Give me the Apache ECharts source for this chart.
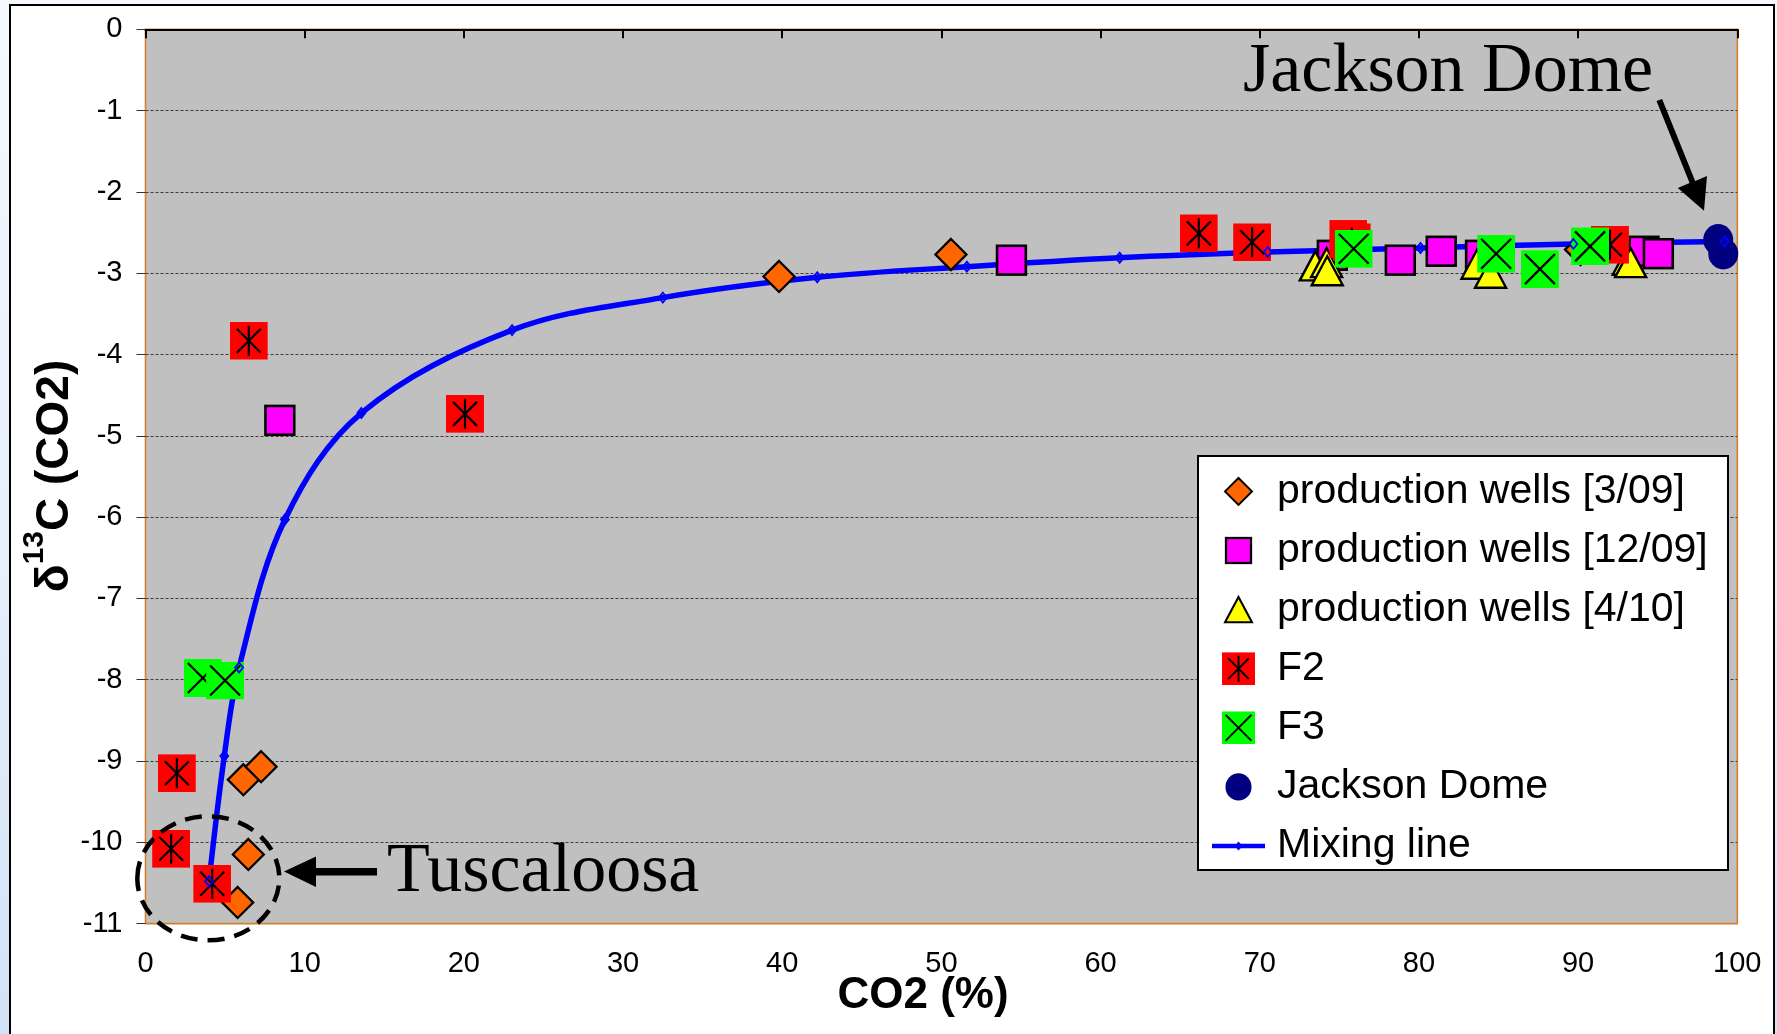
<!DOCTYPE html>
<html><head><meta charset="utf-8">
<script src="https://cdn.jsdelivr.net/npm/echarts@6/dist/echarts.min.js"></script>
<style>
html,body{margin:0;padding:0;width:1777px;height:1034px;overflow:hidden;background:linear-gradient(180deg,#f6f9fe 0%,#e6effa 55%,#d2e2f6 100%);}
#frame{position:absolute;left:9px;top:4px;width:1766px;height:1100px;box-sizing:border-box;border:2px solid #000;background:#fff;}
#chart{position:absolute;left:0;top:0;width:1777px;height:1034px;}
</style></head><body><div id="frame"></div><div id="chart"></div>
<script>
// ---- axis ----
const xMin = 0, xMax = 100, xStep = 10;
const yMin = -11, yMax = 0, yStep = 1;
const xTitle = 'CO2 (%)';

// ---- series values (CO2 %, delta13C) ----
const pw309X = [39.8, 50.6, 6.15, 7.26, 6.46, 5.79, 90.15];
const pw309Y = [-3.04, -2.77, -9.23, -9.07, -10.15, -10.74, -2.71];

const pw1209X = [8.44, 54.4, 74.56, 78.83, 81.4, 83.87, 94.14, 95.04];
const pw1209Y = [-4.81, -2.84, -2.78, -2.84, -2.73, -2.78, -2.73, -2.76];

const pw410X = [73.49, 74.2, 74.24, 83.65, 84.5, 93.15, 93.3];
const pw410Y = [-2.91, -2.87, -2.97, -2.89, -3.0, -2.84, -2.87];

const f2X = [6.49, 20.07, 1.97, 1.61, 4.19, 66.17, 69.52, 75.56, 75.78, 92.0];
const f2Y = [-3.83, -4.73, -9.15, -10.08, -10.51, -2.51, -2.62, -2.58, -2.62, -2.65];

const f3X = [3.6, 5.0, 75.9, 84.85, 87.6, 90.75];
const f3Y = [-7.98, -8.01, -2.70, -2.76, -2.95, -2.67];

const jdX = [98.8, 99.12];
const jdY = [-2.59, -2.76];

const mixX = [3.99, 4.95, 5.88, 8.76, 13.56, 23.03, 32.5, 42.2, 51.6, 61.2, 70.5, 80.1, 89.7, 99.2];
const mixY = [-10.48, -8.94, -7.85, -6.03, -4.72, -3.70, -3.30, -3.05, -2.92, -2.81, -2.74, -2.69, -2.64, -2.61];

const names = ['production wells [3/09]', 'production wells [12/09]', 'production wells [4/10]', 'F2', 'F3', 'Jackson Dome', 'Mixing line'];

// ---- styles ----
const FONT = '"Liberation Sans", Arial, Helvetica, sans-serif';
const SERIF = '"Liberation Serif", "Times New Roman", serif';

const shapes = {
  diamond: '<polygon points="19,3.5 34.5,19 19,34.5 3.5,19" fill="#ff6600" stroke="#000" stroke-width="2.3" stroke-linejoin="miter"/>',
  square: '<rect x="4.6" y="4.6" width="28.8" height="28.8" fill="#ff00ff" stroke="#000" stroke-width="2.6"/>',
  triangle: '<polygon points="19,4.5 34.5,33.5 3.5,33.5" fill="#ffff00" stroke="#000" stroke-width="2.4" stroke-linejoin="miter"/>',
  f2: '<rect x="0" y="0" width="38" height="38" fill="#ff0000"/><path d="M19 4 L19 34 M7 7 L31 31 M31 7 L7 31" stroke="#000" stroke-width="2.2" fill="none"/>',
  f3: '<rect x="0" y="0" width="38" height="38" fill="#00ff00"/><path d="M4 4 L34 34 M34 4 L4 34" stroke="#000" stroke-width="2.2" fill="none"/>',
  circle: '<ellipse cx="19" cy="19" rx="15" ry="15.8" fill="#000080"/>'
};
function uri(svg){ return 'image://data:image/svg+xml;charset=utf-8,' + encodeURIComponent(svg); }
function symSvg(k){ return uri('<svg xmlns="http://www.w3.org/2000/svg" width="38" height="38" viewBox="0 0 38 38">' + shapes[k] + '</svg>'); }
function legSvg(k){ return uri('<svg xmlns="http://www.w3.org/2000/svg" width="67" height="33" viewBox="-19.58 0 77.15 38">' + shapes[k] + '</svg>'); }
const lineLegend = uri('<svg xmlns="http://www.w3.org/2000/svg" width="67" height="33" viewBox="0 0 67 33"><line x1="7" y1="16.5" x2="60" y2="16.5" stroke="#0000ff" stroke-width="4.5"/><polygon points="33.5,12 37.5,16.5 33.5,21 29.5,16.5" fill="#0000ff"/></svg>');

function pairs(xs, ys){ return xs.map((x, i) => [x, ys[i]]); }

const chart = echarts.init(document.getElementById('chart'), null, {renderer: 'canvas'});

const solid = {opacity: 1};
const option = {
  animation: false,
  backgroundColor: 'transparent',
  grid: {left: 145.5, top: 29.3, right: 39.7, bottom: 110.4, show: true, backgroundColor: '#c0c0c0', borderColor: '#d4802a', borderWidth: 1.6},
  xAxis: {
    type: 'value', min: xMin, max: xMax, interval: xStep,
    axisLine: {show: true, lineStyle: {color: '#000', width: 2}},
    axisTick: {show: true, length: 9, lineStyle: {color: '#000', width: 2}},
    axisLabel: {fontSize: 29, color: '#000', fontFamily: FONT, margin: 26, lineHeight: 29},
    splitLine: {show: false}
  },
  yAxis: {
    type: 'value', min: yMin, max: yMax, interval: yStep,
    axisLine: {show: false},
    axisTick: {show: true, length: 9, lineStyle: {color: '#333', width: 1}},
    axisLabel: {fontSize: 29, color: '#000', fontFamily: FONT, margin: 23},
    splitLine: {show: true, showMinLine: false, showMaxLine: false, lineStyle: {color: '#3c3c3c', width: 1, type: [3, 2]}}
  },
  legend: {
    orient: 'vertical', left: 1205, top: 470.9, padding: 0,
    itemWidth: 67, itemHeight: 33, itemGap: 18.1, selectedMode: false, z: 60,
    textStyle: {fontSize: 41, fontFamily: FONT, color: '#000'},
    data: [
      {name: names[0], icon: legSvg('diamond')},
      {name: names[1], icon: legSvg('square')},
      {name: names[2], icon: legSvg('triangle')},
      {name: names[3], icon: legSvg('f2')},
      {name: names[4], icon: legSvg('f3')},
      {name: names[5], icon: legSvg('circle')},
      {name: names[6], icon: lineLegend}
    ]
  },
  series: [
    {name: names[6], type: 'line', data: pairs(mixX, mixY), symbol: 'none', showSymbol: false, smooth: 0.35,
     lineStyle: {color: '#0000ff', width: 5.5, opacity: 1}, z: 1, silent: true},
    {name: names[0], type: 'scatter', data: pairs(pw309X, pw309Y), symbol: symSvg('diamond'), symbolSize: 38, itemStyle: solid, z: 2},
    {name: names[1], type: 'scatter', data: pairs(pw1209X, pw1209Y), symbol: symSvg('square'), symbolSize: 38, itemStyle: solid, z: 2},
    {name: names[2], type: 'scatter', data: pairs(pw410X, pw410Y), symbol: symSvg('triangle'), symbolSize: 38, itemStyle: solid, z: 2},
    {name: names[3], type: 'scatter', data: pairs(f2X, f2Y), symbol: symSvg('f2'), symbolSize: 38, itemStyle: solid, z: 2},
    {name: names[4], type: 'scatter', data: pairs(f3X, f3Y), symbol: symSvg('f3'), symbolSize: 38, itemStyle: solid, z: 2},
    {name: names[5], type: 'scatter', data: pairs(jdX, jdY), symbol: symSvg('circle'), symbolSize: 38, itemStyle: solid, z: 2},
    {name: names[6], type: 'scatter', data: pairs(mixX, mixY), symbol: 'diamond', symbolSize: [8, 10],
     itemStyle: {color: 'rgba(0,0,0,0)', borderColor: '#0000ff', borderWidth: 1.8, opacity: 1}, z: 3}
  ],
  graphic: [
    {type: 'rect', z: 50, shape: {x: 1198, y: 456, width: 530, height: 414}, style: {fill: '#fff', stroke: '#000', lineWidth: 2}},
    {type: 'ellipse', z: 70, shape: {cx: 208.3, cy: 878.3, rx: 71, ry: 62}, style: {fill: 'none', stroke: '#000', lineWidth: 4.5, lineDash: [17, 10]}},
    {type: 'polygon', z: 70, shape: {points: [[377, 868], [316, 868], [316, 856.5], [284, 871.5], [316, 887], [316, 875.5], [377, 875.5]]}, style: {fill: '#000'}},
    {type: 'polygon', z: 70, shape: {points: [[1662.1, 98.9], [1695.2, 180.9], [1707.0, 176.1], [1704, 210.7], [1677.8, 187.9], [1689.6, 183.1], [1656.5, 101.1]]}, style: {fill: '#000'}},
    {type: 'text', z: 70, x: 1243, y: 73, style: {text: 'Jackson Dome', font: '70px ' + SERIF, fill: '#000', align: 'left', verticalAlign: 'middle'}},
    {type: 'text', z: 70, x: 387, y: 872.5, style: {text: 'Tuscaloosa', font: '70px ' + SERIF, fill: '#000', align: 'left', verticalAlign: 'middle'}},
    {type: 'text', z: 70, x: 923, y: 996, style: {text: xTitle, font: 'bold 44px ' + FONT, fill: '#000', align: 'center', verticalAlign: 'middle'}},
    {type: 'text', z: 70, x: 55.3, y: 476, rotation: Math.PI / 2,
     style: {text: '{d|δ}{s|13}{d|C (CO2)}', align: 'center', verticalAlign: 'middle',
       rich: {
         d: {fontSize: 46, fontWeight: 'bold', fontFamily: FONT, fill: '#000', lineHeight: 46, verticalAlign: 'bottom'},
         s: {fontSize: 30, fontWeight: 'bold', fontFamily: FONT, fill: '#000', lineHeight: 30, padding: [0, 0, 29, 0], verticalAlign: 'bottom'}
       }}}
  ]
};
chart.setOption(option);
</script></body></html>
